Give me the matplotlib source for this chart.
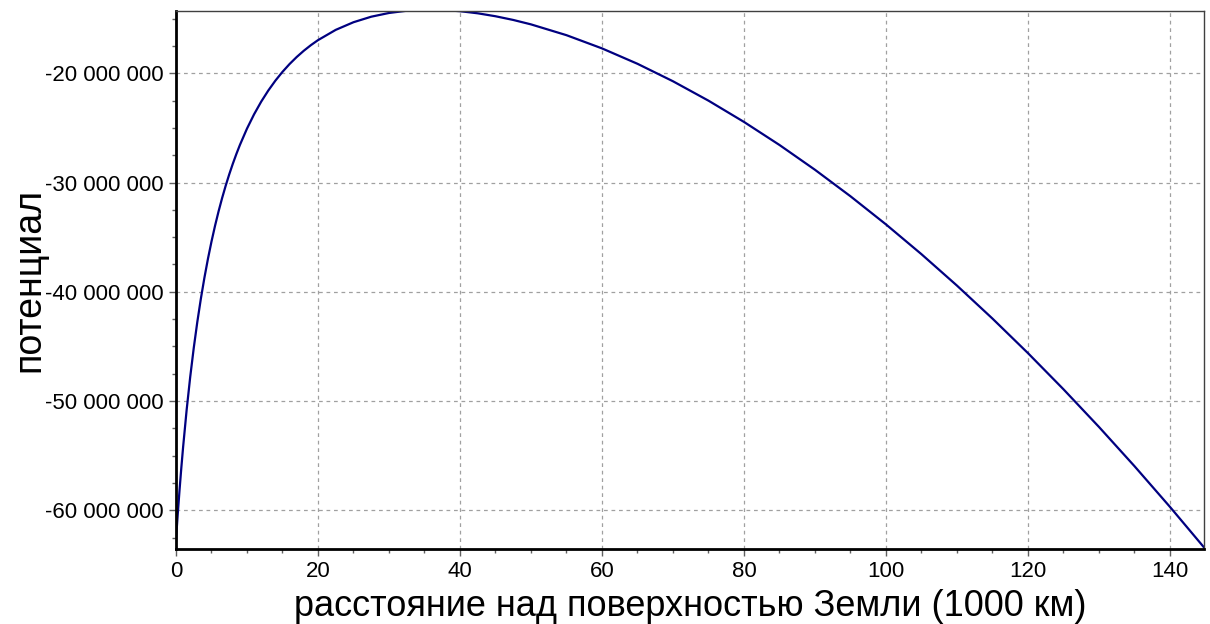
import matplotlib
matplotlib.use("Agg")
import matplotlib.pyplot as plt
from matplotlib.ticker import MultipleLocator, FuncFormatter

# высота над поверхностью Земли, тыс. км
height = [0, 0.25, 0.5, 0.75, 1, 1.5, 2, 2.5, 3, 3.5, 4, 4.5, 5, 5.5, 6, 6.5,
          7, 7.5, 8, 8.5, 9, 10, 11, 12, 13, 14, 15, 16, 17, 18, 19, 20, 22.5,
          25, 27.5, 30, 32.5, 35, 37.5, 40, 42.5, 45, 47.5, 50, 55, 60, 65, 70,
          75, 80, 85, 90, 95, 100, 105, 110, 115, 120, 125, 130, 135, 140, 145]

# потенциал
potential = [-62.673e6, -60.319e6, -58.137e6, -56.110e6, -54.221e6, -50.807e6,
             -47.803e6, -45.142e6, -42.768e6, -40.640e6, -38.720e6, -36.981e6,
             -35.398e6, -33.952e6, -32.628e6, -31.409e6, -30.286e6, -29.248e6,
             -28.285e6, -27.392e6, -26.560e6, -25.061e6, -23.749e6, -22.594e6,
             -21.575e6, -20.670e6, -19.866e6, -19.148e6, -18.508e6, -17.935e6,
             -17.422e6, -16.964e6, -16.022e6, -15.323e6, -14.818e6, -14.477e6,
             -14.272e6, -14.185e6, -14.203e6, -14.313e6, -14.506e6, -14.776e6,
             -15.115e6, -15.520e6, -16.509e6, -17.718e6, -19.128e6, -20.727e6,
             -22.503e6, -24.449e6, -26.559e6, -28.829e6, -31.254e6, -33.830e6,
             -36.557e6, -39.431e6, -42.450e6, -45.613e6, -48.920e6, -52.368e6,
             -55.957e6, -59.686e6, -63.554e6]

plt.rcParams["font.family"] = ["Liberation Sans", "DejaVu Sans"]

fig = plt.figure(figsize=(12.1, 6.24), dpi=100)
ax = fig.add_axes([176 / 1210, 1 - 548.5 / 624, (1204 - 176) / 1210, (548.5 - 10.5) / 624])

ax.plot(height, potential, color="#000080", linewidth=1.6)

ax.set_xlim(0, 144.8)
ax.set_ylim(-63.5e6, -14.25e6)

ax.xaxis.set_major_locator(MultipleLocator(20))
ax.xaxis.set_minor_locator(MultipleLocator(5))
ax.yaxis.set_major_locator(MultipleLocator(10e6))
ax.yaxis.set_minor_locator(MultipleLocator(2.5e6))
ax.yaxis.set_major_formatter(FuncFormatter(lambda v, p: f"{int(round(v)):,}".replace(",", " ")))

ax.grid(True, which="major", color="#a0a0a0", linestyle=(0, (3, 3)), linewidth=0.9)
ax.tick_params(which="major", direction="out", length=5, width=1, color="#606060",
               labelsize=16, pad=4)
ax.tick_params(which="minor", direction="out", length=3, width=1, color="#606060")

for side in ["left", "bottom"]:
    ax.spines[side].set_linewidth(2)
    ax.spines[side].set_color("black")
for side in ["top", "right"]:
    ax.spines[side].set_linewidth(1)
    ax.spines[side].set_color("#404040")

ax.set_xlabel("расстояние над поверхностью Земли (1000 км)", fontsize=26, labelpad=5)
ax.set_ylabel("потенциал", fontsize=27, labelpad=-2)

fig.savefig("out.png", dpi=100)
